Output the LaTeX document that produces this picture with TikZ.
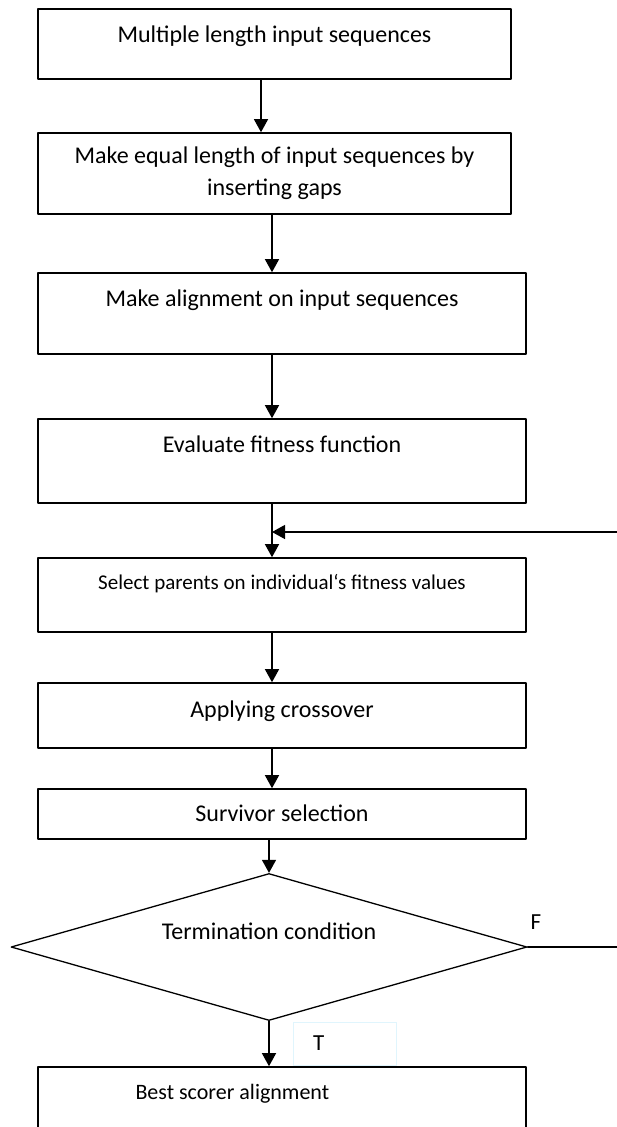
\documentclass[tikz,border=0pt]{standalone}
\usepackage{fontspec}
\setmainfont{Carlito}
\usepackage{tikz}
\tikzset{>=latex}
\usetikzlibrary{shapes,arrows,arrows.meta}
\tikzset{stepbox/.style={draw=black,line width=1.6pt,rectangle,inner sep=0pt,align=center,font=\fontsize{24}{32}\selectfont},
	decbox/.style={draw=black,line width=1.3pt,diamond,aspect=3.5,inner sep=0pt,font=\fontsize{24}{28}\selectfont},
	tagbox/.style={draw=cyan!12,line width=1pt,rectangle,inner xsep=20pt,inner ysep=0pt,font=\fontsize{23}{26}\selectfont},
	flow/.style={->,line width=1.3pt}}

\begin{document}
\begin{tikzpicture}[line cap=round,line join=round,>={Triangle[length=13pt,width=14pt]},x=1pt,y=-1pt]
	\path[use as bounding box,fill=white] (0,0) rectangle (616,1127);
	\node[stepbox,minimum width=473pt,minimum height=70pt,text height=33pt,text depth=37pt] (b1) at (274.5,44) {Multiple length input sequences};
	\node[stepbox,minimum width=473pt,minimum height=81pt] (b2) at (274.5,173.5) {Make equal length of input sequences by\\inserting gaps};
	\node[stepbox,minimum width=488pt,minimum height=81pt,text height=33pt,text depth=48pt] (b3) at (282,313.5) {Make alignment on input sequences};
	\node[stepbox,minimum width=488pt,minimum height=84pt,text height=33pt,text depth=51pt] (b4) at (282,461) {Evaluate fitness function};
	\node[stepbox,minimum width=488pt,minimum height=74pt,text height=31pt,text depth=43pt,font=\fontsize{21}{24}\selectfont] (b5) at (282,595) {Select parents on individual‘s fitness values};
	\node[stepbox,minimum width=488pt,minimum height=65pt,text height=34pt,text depth=31pt] (b6) at (282,715.5) {Applying crossover};
	\node[stepbox,minimum width=488pt,minimum height=50pt,text height=32pt,text depth=18pt] (b7) at (282,814) {Survivor selection};
	\node[decbox,minimum width=516pt,minimum height=147pt,text height=22pt,text depth=38pt] (dia) at (269,947) {Termination condition};
	\node[tagbox,minimum width=103pt,minimum height=43pt] (tbox) at (344.5,1043.5) {\makebox[63pt][l]{T}};
	\node[stepbox,minimum width=488pt,minimum height=120pt,text height=32pt,text depth=88pt,inner xsep=97.6pt,font=\fontsize{22}{26}\selectfont] (b8) at (282,1127) {\makebox[293pt][l]{Best scorer alignment}};
	\node[font=\fontsize{23}{26}\selectfont] (flbl) at (536,922) {F};
	\coordinate (spineA) at (261,0);
	\coordinate (spine) at (272,0);
	\coordinate (loop) at (619,532);
	\draw[flow] (b1.south -| spineA) -- (b2.north -| spineA);
	\draw[flow] (b2.south -| spine) -- (b3.north -| spine);
	\draw[flow] (b3.south -| spine) -- (b4.north -| spine);
	\draw[flow] (b4.south -| spine) -- (b5.north -| spine);
	\draw[flow] (b5.south -| spine) -- (b6.north -| spine);
	\draw[flow] (b6.south -| spine) -- (b7.north -| spine);
	\draw[flow] (b7.south -| dia.north) -- (dia.north);
	\draw[flow] (dia.south) -- (b8.north -| dia.south);
	\draw[flow] (dia.east) -| (loop) -- (loop -| spine);
\end{tikzpicture}
\end{document}
